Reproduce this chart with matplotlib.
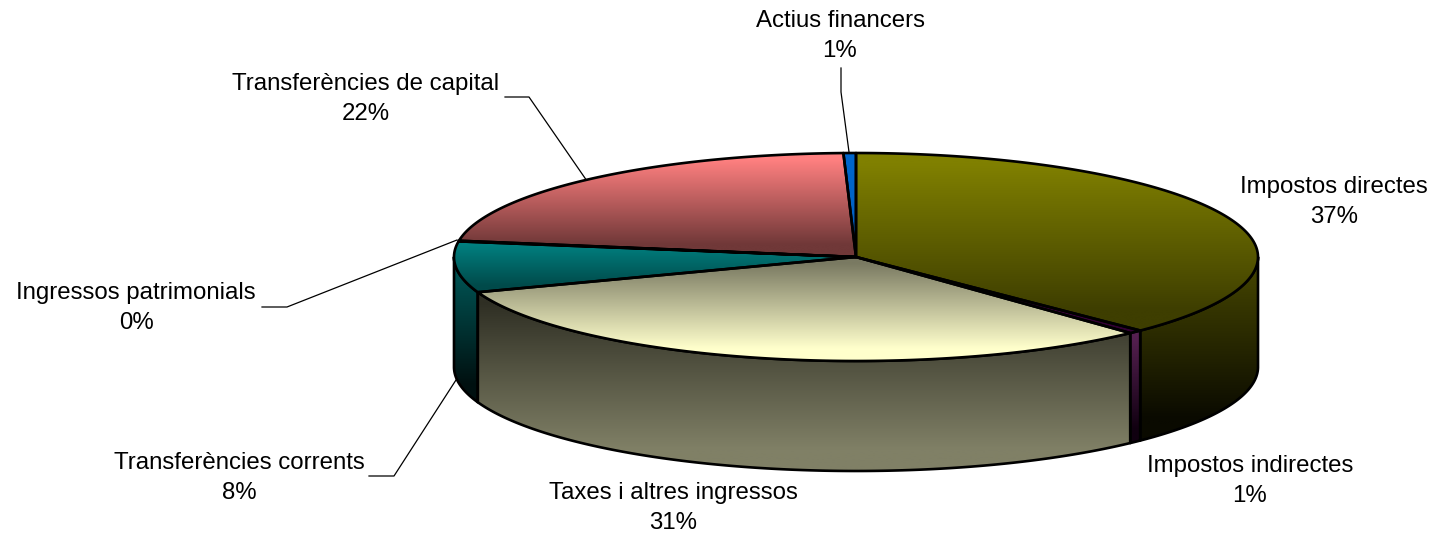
import numpy as np
import matplotlib
matplotlib.use('Agg')
import matplotlib.pyplot as plt
from matplotlib.patches import Polygon
from matplotlib.colors import to_rgb

categories = ['Impostos directes', 'Impostos indirectes', 'Taxes i altres ingressos',
              'Transferències corrents', 'Ingressos patrimonials',
              'Transferències de capital', 'Actius financers']
values = [37.5, 0.55, 31.45, 7.9, 0.1, 22.0, 0.5]
percent_labels = ['37%', '1%', '31%', '8%', '0%', '22%', '1%']

top_colors = [('#808000', '#3e3e00'), ('#660066', '#330033'), ('#7a7a62', '#ffffcc'),
              ('#008080', '#004a4a'), ('#008080', '#004a4a'), ('#ff8080', '#703838'),
              ('#0066cc', '#0060c0')]
side_colors = [('#444400', '#0a0a00'), ('#552050', '#100010'), ('#2f2f24', '#808066'),
               ('#005858', '#001010'), ('#005858', '#001010'), ('#703838', '#200000'),
               ('#003366', '#001020')]

label_pos = [(1334, 202), (1250, 481), (673, 508), (239, 478), (136, 308), (366, 99), (840, 36)]
leaders = [None, None, None,
           [(456, 380), (394, 476), (369, 476)],
           [(457, 240), (287, 307), (262, 307)],
           [(587, 181), (529, 97), (505, 97)],
           [(849, 152), (841, 92), (841, 68)]]

cx, cy, rx, ry, depth = 856, 257, 402, 104, 110


def rim(t):
    return cx + rx * np.sin(t), cy - ry * np.cos(t)


def fill_gradient(ax, xs, ys, colors, zorder):
    pts = np.column_stack([xs, ys])
    c0, c1 = np.array(to_rgb(colors[0])), np.array(to_rgb(colors[1]))
    # the colours hold for a little at both ends of the slice
    f = np.clip((np.linspace(0, 1, 256) - 0.06) / 0.82, 0, 1)[:, None, None]
    grad = c0[None, None, :] * (1 - f) + c1[None, None, :] * f
    im = ax.imshow(grad, extent=[xs.min(), xs.max(), ys.max(), ys.min()],
                   aspect='auto', zorder=zorder, interpolation='bilinear')
    im.set_clip_path(Polygon(pts, closed=True, transform=ax.transData))
    ax.add_patch(Polygon(pts, closed=True, fill=False, edgecolor='black',
                         linewidth=1.9, joinstyle='round', zorder=zorder + 0.5))


fig = plt.figure(figsize=(14.34, 5.34), dpi=100)
ax = fig.add_axes([0, 0, 1, 1])

edges = np.radians(np.concatenate([[0], np.cumsum(values)]) / sum(values) * 360)

for i in range(len(values)):
    start, end = edges[i], edges[i + 1]

    # side wall, only the front half of the rim is visible
    a, b = max(start, np.pi / 2), min(end, 3 * np.pi / 2)
    if b > a:
        t = np.linspace(a, b, 200)
        x, y = rim(t)
        xs = np.concatenate([x, x[::-1]])
        ys = np.concatenate([y, y[::-1] + depth])
        fill_gradient(ax, xs, ys, side_colors[i], 2)

    # top of the slice
    t = np.linspace(start, end, 200)
    x, y = rim(t)
    xs = np.concatenate([[cx], x])
    ys = np.concatenate([[cy], y])
    fill_gradient(ax, xs, ys, top_colors[i], 3)

for i, name in enumerate(categories):
    px, py = label_pos[i]
    ax.text(px, py, name + '\n' + percent_labels[i], ha='center', va='center',
            fontsize=17.3, family='Liberation Sans', linespacing=1.45, color='black')
    if leaders[i] is not None:
        lx, ly = zip(*leaders[i])
        ax.plot(lx, ly, color='black', linewidth=0.9, zorder=1)

ax.set_xlim(0, 1434)
ax.set_ylim(534, 0)
ax.axis('off')
fig.savefig('out.png', dpi=100)
